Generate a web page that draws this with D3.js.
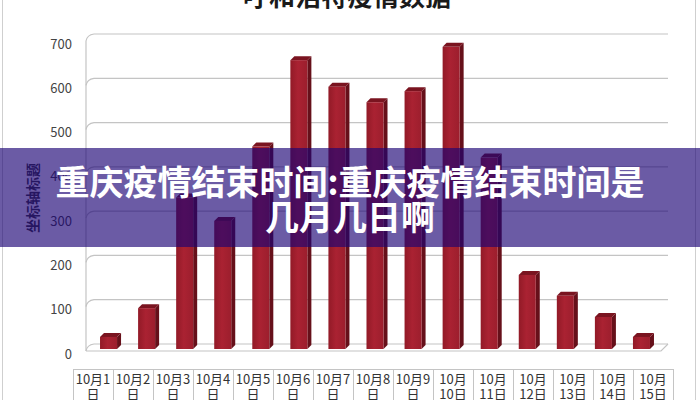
<!DOCTYPE html>
<html><head><meta charset="utf-8">
<script src="https://cdn.jsdelivr.net/npm/d3@7"></script>
<style>html,body{margin:0;padding:0;background:#fff;overflow:hidden}</style>
</head><body>
<svg id="c" width="700" height="400"></svg>
<script>
const categories = ["10月1日","10月2日","10月3日","10月4日","10月5日","10月6日","10月7日","10月8日","10月9日","10月10日","10月11日","10月12日","10月13日","10月14日","10月15日"];
const values = [25, 90, 340, 287, 455, 650, 590, 555, 580, 680, 430, 165, 118, 70, 25];
const yTicks = [0, 100, 200, 300, 400, 500, 600, 700];
const chartTitle = "呼和浩特疫情数据";
const yAxisTitle = "坐标轴标题";
const bannerLines = ["重庆疫情结束时间:重庆疫情结束时间是", "几月几日啊"];

const FONT = "'Noto Sans CJK SC','Noto Sans',sans-serif";
const svg = d3.select("#c");

const y = d3.scaleLinear().domain([0, 700]).range([344, 34]);
const x = d3.scaleBand().domain(categories).range([89.5, 660.5]).paddingInner(0.553).paddingOuter(0.2765);
const xt = d3.scaleBand().domain(categories).range([73, 673]);
const DX = 8, DY = 7, backL = 94, backR = 668;
const BD = 4; // bar depth

// outer chart border
svg.append("line").attr("x1",2.5).attr("x2",2.5).attr("y1",0).attr("y2",400).attr("stroke","#cfcfcf");
svg.append("line").attr("x1",695.5).attr("x2",695.5).attr("y1",0).attr("y2",400).attr("stroke","#cfcfcf");

// title (cut at top)
svg.append("text").attr("x",347).attr("y",6).attr("text-anchor","middle")
  .attr("font-family",FONT).attr("font-weight","bold").attr("font-size",26).attr("fill","#1a1a1a").text(chartTitle);

// gridlines on walls
const grid = svg.append("g").attr("fill","none").attr("stroke","#c4c4c4").attr("stroke-width",1.2);
yTicks.forEach(t => {
  grid.append("path").attr("d", `M${backL-DX},${y(t)+DY} Q${backL-DX+1},${y(t)+1} ${backL},${y(t)} L${backR},${y(t)}`);
});
grid.append("line").attr("x1",backL-DX).attr("x2",backL-DX).attr("y1",y(700)+DY).attr("y2",y(0)+DY);
grid.append("path").attr("d", `M${backL-DX},${y(0)+DY} L${backR-DX+1},${y(0)+DY} L${backR},${y(0)}`);

// y tick labels
svg.append("g").selectAll("text").data(yTicks).join("text")
  .attr("x",72).attr("y",d => y(d)+14.5).attr("text-anchor","end")
  .attr("font-family",FONT).attr("font-size",13).attr("fill","#444").text(d => d);

// y axis title
svg.append("text").attr("transform","translate(38,198) rotate(-90)").attr("text-anchor","middle")
  .attr("font-family",FONT).attr("font-weight","bold").attr("font-size",14).attr("fill","#3a3a3a").text(yAxisTitle);

// bars
const defs = svg.append("defs");
const g1 = defs.append("linearGradient").attr("id","front").attr("x1","0").attr("x2","1").attr("y1","0").attr("y2","0");
g1.append("stop").attr("offset","0").attr("stop-color","#921a27");
g1.append("stop").attr("offset","0.45").attr("stop-color","#aa2232");
g1.append("stop").attr("offset","1").attr("stop-color","#9c1e2d");
const bars = svg.append("g");
const base = y(0) + 5;
categories.forEach((c, i) => {
  const v = values[i];
  const x0 = x(c), w = x.bandwidth(), top = y(v) + BD;
  bars.append("polygon").attr("points",
    `${x0+w},${top} ${x0+w+BD},${top-BD} ${x0+w+BD},${base-BD} ${x0+w},${base}`).attr("fill","#66101a");
  bars.append("polygon").attr("points",
    `${x0},${top} ${x0+BD},${top-BD} ${x0+w+BD},${top-BD} ${x0+w},${top}`).attr("fill","#7a1420");
  bars.append("rect").attr("x",x0).attr("y",top).attr("width",w).attr("height",base-top).attr("fill","url(#front)");
});

// category table
const tbl = svg.append("g").attr("stroke","#c4c4c4").attr("stroke-width",1);
tbl.append("line").attr("x1",73).attr("x2",673).attr("y1",369.5).attr("y2",369.5);
categories.concat([null]).forEach((c, i) => {
  const xx = c ? xt(c) : xt(categories[categories.length-1]) + xt.bandwidth();
  tbl.append("line").attr("x1",Math.round(xx)+0.5).attr("x2",Math.round(xx)+0.5).attr("y1",369).attr("y2",400);
});
const labs = svg.append("g").attr("font-family",FONT).attr("font-size",13).attr("fill","#333").attr("text-anchor","middle");
categories.forEach(c => {
  const m = c.indexOf("月");
  const day = c.slice(m+1, c.length-1);
  const l1 = day.length === 1 ? c.slice(0, c.length-1) : c.slice(0, m+1);
  const l2 = day.length === 1 ? "日" : day + "日";
  const cx = xt(c) + xt.bandwidth()/2;
  labs.append("text").attr("x",cx).attr("y",384).text(l1);
  labs.append("text").attr("x",cx).attr("y",398.5).text(l2);
});

// banner overlay
svg.append("rect").attr("x",0).attr("y",148).attr("width",700).attr("height",99).attr("fill","rgba(28,3,117,0.65)");
svg.append("g").attr("font-family",FONT).attr("font-weight","bold").attr("font-size",34).attr("fill","#fff").attr("text-anchor","middle")
  .selectAll("text").data(bannerLines).join("text")
  .attr("x",350).attr("y",(d,i) => 194.5 + i*35).text(d => d);
</script>
</body></html>
